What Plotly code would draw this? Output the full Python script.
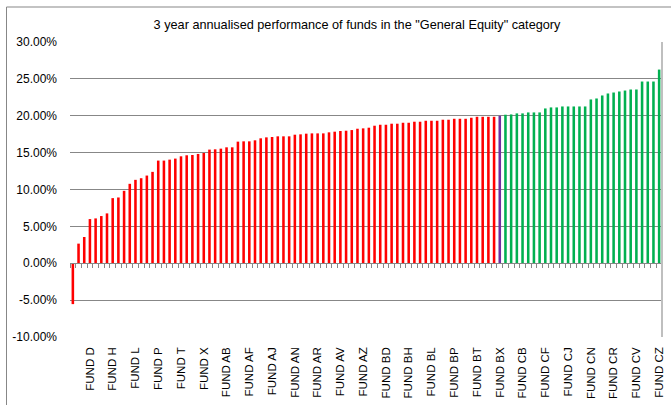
import plotly.graph_objects as go

# ---------------- data ----------------
funds = [
    "FUND A", "FUND B", "FUND C", "FUND D", "FUND E", "FUND F", "FUND G", "FUND H",
    "FUND I", "FUND J", "FUND K", "FUND L", "FUND M", "FUND N", "FUND O", "FUND P",
    "FUND Q", "FUND R", "FUND S", "FUND T", "FUND U", "FUND V", "FUND W", "FUND X",
    "FUND Y", "FUND Z",
    "FUND AA", "FUND AB", "FUND AC", "FUND AD", "FUND AE", "FUND AF", "FUND AG", "FUND AH",
    "FUND AI", "FUND AJ", "FUND AK", "FUND AL", "FUND AM", "FUND AN", "FUND AO", "FUND AP",
    "FUND AQ", "FUND AR", "FUND AS", "FUND AT", "FUND AU", "FUND AV", "FUND AW", "FUND AX",
    "FUND AY", "FUND AZ",
    "FUND BA", "FUND BB", "FUND BC", "FUND BD", "FUND BE", "FUND BF", "FUND BG", "FUND BH",
    "FUND BI", "FUND BJ", "FUND BK", "FUND BL", "FUND BM", "FUND BN", "FUND BO", "FUND BP",
    "FUND BQ", "FUND BR", "FUND BS", "FUND BT", "FUND BU", "FUND BV", "FUND BW", "FUND BX",
    "FUND BY", "FUND BZ",
    "FUND CA", "FUND CB", "FUND CC", "FUND CD", "FUND CE", "FUND CF", "FUND CG", "FUND CH",
    "FUND CI", "FUND CJ", "FUND CK", "FUND CL", "FUND CM", "FUND CN", "FUND CO", "FUND CP",
    "FUND CQ", "FUND CR", "FUND CS", "FUND CT", "FUND CU", "FUND CV", "FUND CW", "FUND CX",
    "FUND CY", "FUND CZ",
]

performance = [
    -5.54, 2.66, 3.56, 5.99, 6.08, 6.40, 6.76, 8.83, 8.92, 9.82,
    10.77, 11.31, 11.53, 11.89, 12.39, 13.92, 13.92, 14.05, 14.19, 14.50,
    14.64, 14.68, 14.82, 14.95, 15.41, 15.45, 15.54, 15.72, 15.72, 16.49,
    16.53, 16.53, 16.67, 16.94, 17.07, 17.12, 17.21, 17.21, 17.21, 17.43,
    17.48, 17.57, 17.61, 17.61, 17.61, 17.75, 17.84, 17.93, 17.97, 18.06,
    18.24, 18.29, 18.38, 18.65, 18.78, 18.78, 18.92, 18.92, 19.05, 19.05,
    19.19, 19.19, 19.32, 19.32, 19.32, 19.46, 19.46, 19.59, 19.59, 19.59,
    19.73, 19.86, 19.86, 19.86, 19.86, 20.00, 20.14, 20.18, 20.32, 20.32,
    20.45, 20.45, 20.45, 20.99, 21.13, 21.13, 21.26, 21.26, 21.26, 21.26,
    21.26, 22.21, 22.34, 22.75, 23.02, 23.15, 23.29, 23.42, 23.56, 23.56,
    24.64, 24.64, 24.64, 26.26,
]

highlight_fund = "FUND BX"

tick_labels = [
    "FUND D", "FUND H", "FUND L", "FUND P", "FUND T", "FUND X", "FUND AB",
    "FUND AF", "FUND AJ", "FUND AN", "FUND AR", "FUND AV", "FUND AZ", "FUND BD",
    "FUND BH", "FUND BL", "FUND BP", "FUND BT", "FUND BX", "FUND CB", "FUND CF",
    "FUND CJ", "FUND CN", "FUND CR", "FUND CV", "FUND CZ",
]

y_ticks = [-10, -5, 0, 5, 10, 15, 20, 25, 30]
y_tick_labels = ["-10.00%", "-5.00%", "0.00%", "5.00%", "10.00%", "15.00%",
                 "20.00%", "25.00%", "30.00%"]

title_text = '3 year annualised performance of funds in the "General Equity" category'

# ---------------- styling ----------------
RED = "#FF0000"
PURPLE = "#7030A0"
GREEN = "#00B050"
GRID = "#878787"
FONT = "Liberation Sans"

hi = funds.index(highlight_fund)
colors = [RED if i < hi else (PURPLE if i == hi else GREEN) for i in range(len(funds))]

W, H = 671, 405
ML, MR, MT, MB = 70, 9, 42, 68
pw, ph = W - ML - MR, H - MT - MB
ymin, ymax = y_ticks[0], y_ticks[-1]
n = len(funds)

fig = go.Figure()
fig.add_trace(go.Bar(
    x=funds, y=performance, marker=dict(color=colors, line=dict(width=0)),
    width=0.45, showlegend=False, hoverinfo="x+y",
))

fig.update_layout(
    width=W, height=H,
    margin=dict(l=ML, r=MR, t=MT, b=MB, pad=0, autoexpand=False),
    paper_bgcolor="white", plot_bgcolor="white",
    font=dict(family=FONT, size=12, color="#000000"),
    title=dict(text=title_text, x=357 / W, xref="container", xanchor="center",
               y=1 - 25 / H, yref="container", yanchor="middle",
               font=dict(family=FONT, size=12.7, color="#000000")),
    bargap=0.55,
    xaxis=dict(
        type="category", range=[-0.5, n - 0.5], automargin=False,
        tickmode="array", tickvals=tick_labels, ticktext=tick_labels,
        tickangle=-90, ticks="", showline=False, showgrid=False, zeroline=False,
        tickfont=dict(family=FONT, size=11.5, color="#000000"),
        ticklabelstandoff=7,
    ),
    xaxis2=dict(
        type="linear", overlaying="x", anchor="free",
        position=(0 - ymin) / (ymax - ymin), automargin=False,
        range=[-0.5, n - 0.5], tickmode="linear", tick0=-0.5, dtick=1,
        ticks="outside", ticklen=4, tickwidth=1, tickcolor=GRID,
        showticklabels=False, showline=True, linecolor=GRID, linewidth=1,
        showgrid=False, zeroline=False,
    ),
    yaxis=dict(
        range=[ymin, ymax], tickmode="array", tickvals=y_ticks, ticktext=y_tick_labels,
        showgrid=True, gridcolor=GRID, gridwidth=1, automargin=False,
        zeroline=False, showline=False, ticks="",
        tickfont=dict(family=FONT, size=12, color="#000000"),
        ticklabelstandoff=12,
    ),
)

# invisible helper trace so the overlaying axis (category tick marks at 0%) is drawn
fig.add_trace(go.Scatter(x=[-0.5, n - 0.5], y=[0, 0], xaxis="x2", yaxis="y",
                         mode="lines", line=dict(width=0, color="rgba(0,0,0,0)"),
                         hoverinfo="skip", showlegend=False))

# chart-area border (left & top) and plot-area right edge
px_x = lambda px: (px - ML) / pw
px_y = lambda py: (H - MB - py) / ph
fig.add_shape(type="line", xref="paper", yref="paper",
              x0=px_x(6.5), x1=px_x(6.5), y0=px_y(7), y1=px_y(H + 5),
              line=dict(color=GRID, width=1))
fig.add_shape(type="line", xref="paper", yref="paper",
              x0=px_x(6.5), x1=px_x(W + 5), y0=px_y(7), y1=px_y(7),
              line=dict(color=GRID, width=1))
fig.add_shape(type="line", xref="paper", yref="paper",
              x0=1, x1=1, y0=0, y1=1,
              line=dict(color="#BFBFBF", width=2))

fig.write_html("out.html",
               config={"displayModeBar": False},
               post_script="document.body.style.margin='0px';"
                           "document.body.style.overflow='hidden';")
